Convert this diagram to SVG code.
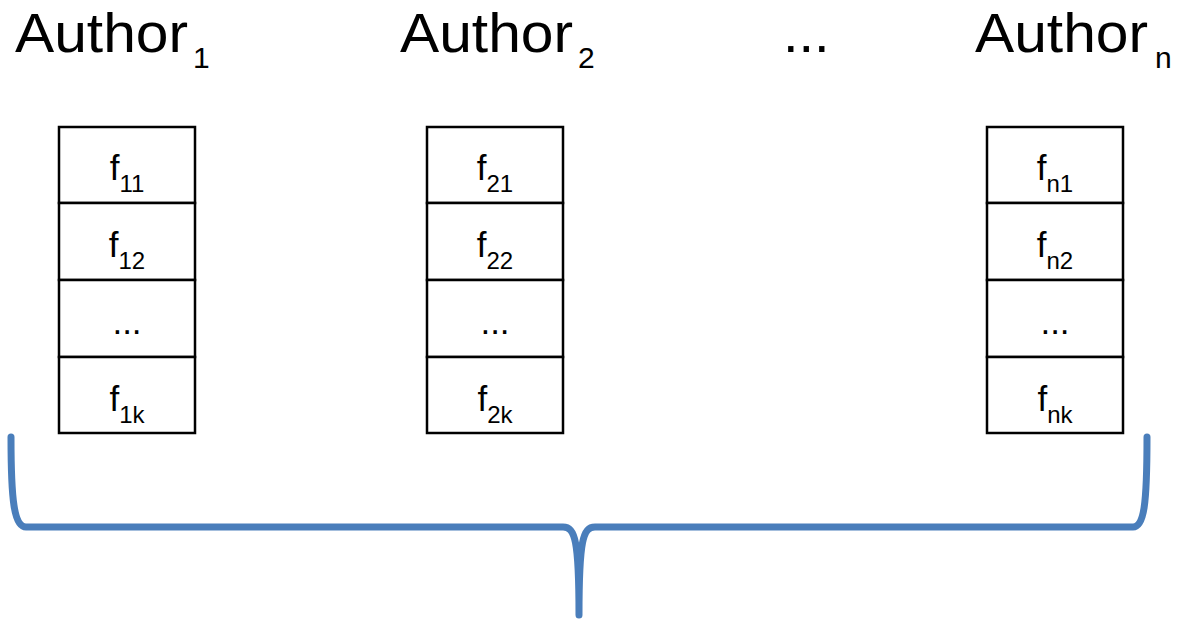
<svg xmlns="http://www.w3.org/2000/svg" width="1181" height="623" viewBox="0 0 1181 623">
<style>
.t{font-family:"Liberation Sans",Arial,sans-serif;fill:#000}
.big{font-size:56px}
.sub{font-size:30px}
.cell{fill:#fff;stroke:#000;stroke-width:2.5}
.c{font-size:35px;text-anchor:middle}
.cs{font-size:24px}
.brace{fill:none;stroke:#4a7ebb;stroke-width:7;stroke-linecap:round;stroke-linejoin:round}
</style>
<rect width="1181" height="623" fill="#fff"/>
<g id="label-author1"><text class="t big" x="15" y="52" textLength="173" lengthAdjust="spacingAndGlyphs">Author</text><text class="t sub" x="193" y="68">1</text></g>
<g id="label-author2"><text class="t big" x="400" y="52" textLength="173" lengthAdjust="spacingAndGlyphs">Author</text><text class="t sub" x="578" y="68">2</text></g>
<g id="label-dots"><text class="t big" x="783" y="52">...</text></g>
<g id="label-authorn"><text class="t big" x="975" y="52" textLength="173" lengthAdjust="spacingAndGlyphs">Author</text><text class="t sub" x="1155" y="68">n</text></g>

<g id="author1">
<rect class="cell" x="59" y="127" width="136" height="76"/>
<rect class="cell" x="59" y="203" width="136" height="77"/>
<rect class="cell" x="59" y="280" width="136" height="77"/>
<rect class="cell" x="59" y="357" width="136" height="76"/>
<text class="t c" x="127" y="180">f<tspan class="cs" dy="12">11</tspan></text>
<text class="t c" x="127" y="257">f<tspan class="cs" dy="12">12</tspan></text>
<text class="t c" x="127" y="334">...</text>
<text class="t c" x="127" y="411">f<tspan class="cs" dy="12">1k</tspan></text>
</g>
<g id="author2">
<rect class="cell" x="427" y="127" width="136" height="76"/>
<rect class="cell" x="427" y="203" width="136" height="77"/>
<rect class="cell" x="427" y="280" width="136" height="77"/>
<rect class="cell" x="427" y="357" width="136" height="76"/>
<text class="t c" x="495" y="180">f<tspan class="cs" dy="12">21</tspan></text>
<text class="t c" x="495" y="257">f<tspan class="cs" dy="12">22</tspan></text>
<text class="t c" x="495" y="334">...</text>
<text class="t c" x="495" y="411">f<tspan class="cs" dy="12">2k</tspan></text>
</g>
<g id="authorn">
<rect class="cell" x="987" y="127" width="136" height="76"/>
<rect class="cell" x="987" y="203" width="136" height="77"/>
<rect class="cell" x="987" y="280" width="136" height="77"/>
<rect class="cell" x="987" y="357" width="136" height="76"/>
<text class="t c" x="1055" y="180">f<tspan class="cs" dy="12">n1</tspan></text>
<text class="t c" x="1055" y="257">f<tspan class="cs" dy="12">n2</tspan></text>
<text class="t c" x="1055" y="334">...</text>
<text class="t c" x="1055" y="411">f<tspan class="cs" dy="12">nk</tspan></text>
</g>
<g id="connectors">
<path class="brace" d="M11,437 C11,500 14,527 26,527 L563,527 C575,527 579,540 579,615 C579,540 583,527 595,527 L1133,527 C1144,527 1147,505 1147,437"/>
</g>
</svg>
